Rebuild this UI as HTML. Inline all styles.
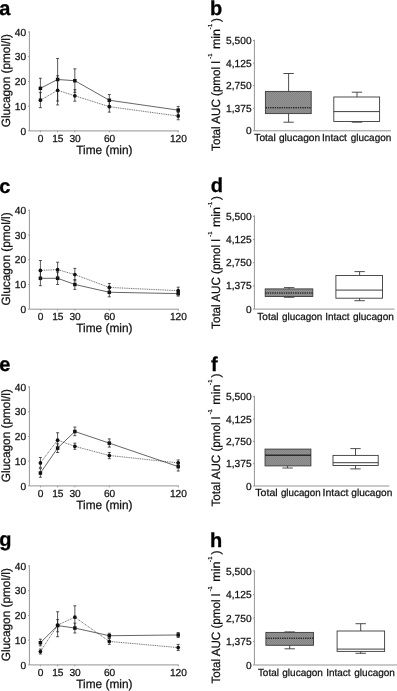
<!DOCTYPE html>
<html><head><meta charset="utf-8"><title>Figure</title>
<style>
html,body{margin:0;padding:0;background:#fff;}
body{width:397px;height:691px;overflow:hidden;font-family:"Liberation Sans",sans-serif;}
svg{display:block;will-change:transform;}
text{font-family:"Liberation Sans",sans-serif;fill:#111;text-rendering:geometricPrecision;}
.let{font-weight:bold;font-size:20px;fill:#000;stroke:#000;stroke-width:0.3;}
.sup{font-size:5.8px;stroke:#111;stroke-width:0.25;}
.tk{font-size:10.2px;stroke:#111;stroke-width:0.25;}
.lab{font-size:12px;stroke:#111;stroke-width:0.25;}
.ax{fill:none;stroke:#959595;stroke-width:1;}
.ln{fill:none;stroke:#222;stroke-width:0.7;}
.eb{fill:none;stroke:#222;stroke-width:0.75;}
.wh{fill:none;stroke:#3a3a3a;stroke-width:0.9;}
.bx{stroke:#3a3a3a;stroke-width:0.9;}
.md{fill:none;stroke:#2a2a2a;stroke-width:0.9;}
</style></head><body>
<svg width="397" height="691" viewBox="0 0 397 691">
<defs>
<pattern id="ht" width="2" height="2" patternUnits="userSpaceOnUse">
<rect width="2" height="2" fill="#929292"/>
<rect width="1" height="1" fill="#848484"/>
<rect x="1" y="1" width="1" height="1" fill="#848484"/>
</pattern>
</defs>
<text x="-0.7" y="14.7" class="let">a</text>
<path d="M29.4 31.30V130.90H178.8" class="ax"/>
<path d="M28.10 130.90H29.4" class="ax"/>
<text x="26.20" y="134.50" class="tk" text-anchor="end">0</text>
<path d="M28.10 106.18H29.4" class="ax"/>
<text x="26.20" y="109.78" class="tk" text-anchor="end">10</text>
<path d="M28.10 81.45H29.4" class="ax"/>
<text x="26.20" y="85.05" class="tk" text-anchor="end">20</text>
<path d="M28.10 56.72H29.4" class="ax"/>
<text x="26.20" y="60.32" class="tk" text-anchor="end">30</text>
<path d="M28.10 32.00H29.4" class="ax"/>
<text x="26.20" y="35.60" class="tk" text-anchor="end">40</text>
<path d="M40.40 130.90v1.4" class="ax"/>
<text x="40.65" y="141.80" class="tk" text-anchor="middle">0</text>
<path d="M57.62 130.90v1.4" class="ax"/>
<text x="57.88" y="141.80" class="tk" text-anchor="middle">15</text>
<path d="M74.85 130.90v1.4" class="ax"/>
<text x="75.10" y="141.80" class="tk" text-anchor="middle">30</text>
<path d="M109.30 130.90v1.4" class="ax"/>
<text x="109.55" y="141.80" class="tk" text-anchor="middle">60</text>
<path d="M178.20 130.90v1.4" class="ax"/>
<text x="178.45" y="141.80" class="tk" text-anchor="middle">120</text>
<text x="76.2" y="153.80" class="lab" textLength="56.3" lengthAdjust="spacingAndGlyphs">Time (min)</text>
<text transform="translate(9.5 127.3) rotate(-90)" class="lab" textLength="93.2" lengthAdjust="spacingAndGlyphs">Glucagon (pmol/l)</text>
<path d="M40.40 88.37L57.62 79.47L74.85 80.71L109.30 100.24L178.20 110.13" class="ln"/>
<path d="M40.40 78.24V98.76M38.90 78.24h3M38.90 98.76h3" class="eb"/>
<path d="M57.62 58.46V100.98M56.12 58.46h3M56.12 100.98h3" class="eb"/>
<path d="M74.85 68.84V92.33M73.35 68.84h3M73.35 92.33h3" class="eb"/>
<path d="M109.30 94.55V106.18M107.80 94.55h3M107.80 106.18h3" class="eb"/>
<path d="M178.20 106.42V114.83M176.70 106.42h3M176.70 114.83h3" class="eb"/>
<rect x="38.65" y="86.62" width="3.5" height="3.5" fill="#111"/>
<rect x="55.88" y="77.72" width="3.5" height="3.5" fill="#111"/>
<rect x="73.10" y="78.96" width="3.5" height="3.5" fill="#111"/>
<rect x="107.55" y="98.49" width="3.5" height="3.5" fill="#111"/>
<rect x="176.45" y="108.38" width="3.5" height="3.5" fill="#111"/>
<path d="M40.40 100.24L57.62 90.35L74.85 95.79L109.30 106.67L178.20 116.06" class="ln" style="stroke-dasharray:1 0.8;stroke-width:0.7;stroke:#2a2a2a"/>
<path d="M40.40 92.58V107.66M38.90 92.58h3M38.90 107.66h3" class="eb"/>
<path d="M57.62 75.76V104.94M56.12 75.76h3M56.12 104.94h3" class="eb"/>
<path d="M74.85 89.61V101.23M73.35 89.61h3M73.35 101.23h3" class="eb"/>
<path d="M109.30 100.74V112.11M107.80 100.74h3M107.80 112.11h3" class="eb"/>
<path d="M178.20 112.36V119.77M176.70 112.36h3M176.70 119.77h3" class="eb"/>
<circle cx="40.40" cy="100.24" r="1.85" fill="#111"/>
<circle cx="57.62" cy="90.35" r="1.85" fill="#111"/>
<circle cx="74.85" cy="95.79" r="1.85" fill="#111"/>
<circle cx="109.30" cy="106.67" r="1.85" fill="#111"/>
<circle cx="178.20" cy="116.06" r="1.85" fill="#111"/>
<text x="-0.7" y="192.8" class="let">c</text>
<path d="M29.4 209.60V309.20H178.8" class="ax"/>
<path d="M28.10 309.20H29.4" class="ax"/>
<text x="26.20" y="312.80" class="tk" text-anchor="end">0</text>
<path d="M28.10 284.48H29.4" class="ax"/>
<text x="26.20" y="288.08" class="tk" text-anchor="end">10</text>
<path d="M28.10 259.75H29.4" class="ax"/>
<text x="26.20" y="263.35" class="tk" text-anchor="end">20</text>
<path d="M28.10 235.03H29.4" class="ax"/>
<text x="26.20" y="238.63" class="tk" text-anchor="end">30</text>
<path d="M28.10 210.30H29.4" class="ax"/>
<text x="26.20" y="213.90" class="tk" text-anchor="end">40</text>
<path d="M40.40 309.20v1.4" class="ax"/>
<text x="40.65" y="320.10" class="tk" text-anchor="middle">0</text>
<path d="M57.62 309.20v1.4" class="ax"/>
<text x="57.88" y="320.10" class="tk" text-anchor="middle">15</text>
<path d="M74.85 309.20v1.4" class="ax"/>
<text x="75.10" y="320.10" class="tk" text-anchor="middle">30</text>
<path d="M109.30 309.20v1.4" class="ax"/>
<text x="109.55" y="320.10" class="tk" text-anchor="middle">60</text>
<path d="M178.20 309.20v1.4" class="ax"/>
<text x="178.45" y="320.10" class="tk" text-anchor="middle">120</text>
<text x="76.2" y="332.10" class="lab" textLength="56.3" lengthAdjust="spacingAndGlyphs">Time (min)</text>
<text transform="translate(9.5 305.6) rotate(-90)" class="lab" textLength="93.2" lengthAdjust="spacingAndGlyphs">Glucagon (pmol/l)</text>
<path d="M40.40 278.29L57.62 278.29L74.85 284.48L109.30 292.26L178.20 293.62" class="ln"/>
<path d="M40.40 270.88V285.71M38.90 270.88h3M38.90 285.71h3" class="eb"/>
<path d="M57.62 272.11V284.48M56.12 272.11h3M56.12 284.48h3" class="eb"/>
<path d="M74.85 279.53V289.42M73.35 279.53h3M73.35 289.42h3" class="eb"/>
<path d="M109.30 288.18V296.84M107.80 288.18h3M107.80 296.84h3" class="eb"/>
<path d="M178.20 291.15V296.10M176.70 291.15h3M176.70 296.10h3" class="eb"/>
<rect x="38.65" y="276.54" width="3.5" height="3.5" fill="#111"/>
<rect x="55.88" y="276.54" width="3.5" height="3.5" fill="#111"/>
<rect x="73.10" y="282.73" width="3.5" height="3.5" fill="#111"/>
<rect x="107.55" y="290.51" width="3.5" height="3.5" fill="#111"/>
<rect x="176.45" y="291.87" width="3.5" height="3.5" fill="#111"/>
<path d="M40.40 270.38L57.62 269.64L74.85 274.59L109.30 287.44L178.20 290.66" class="ln" style="stroke-dasharray:1 0.8;stroke-width:0.7;stroke:#2a2a2a"/>
<path d="M40.40 260.49V279.53M38.90 260.49h3M38.90 279.53h3" class="eb"/>
<path d="M57.62 262.22V277.06M56.12 262.22h3M56.12 277.06h3" class="eb"/>
<path d="M74.85 268.40V280.77M73.35 268.40h3M73.35 280.77h3" class="eb"/>
<path d="M109.30 283.49V291.89M107.80 283.49h3M107.80 291.89h3" class="eb"/>
<path d="M178.20 287.19V294.37M176.70 287.19h3M176.70 294.37h3" class="eb"/>
<circle cx="40.40" cy="270.38" r="1.85" fill="#111"/>
<circle cx="57.62" cy="269.64" r="1.85" fill="#111"/>
<circle cx="74.85" cy="274.59" r="1.85" fill="#111"/>
<circle cx="109.30" cy="287.44" r="1.85" fill="#111"/>
<circle cx="178.20" cy="290.66" r="1.85" fill="#111"/>
<text x="-0.7" y="370.5" class="let">e</text>
<path d="M29.4 386.30V485.90H178.8" class="ax"/>
<path d="M28.10 485.90H29.4" class="ax"/>
<text x="26.20" y="489.50" class="tk" text-anchor="end">0</text>
<path d="M28.10 461.17H29.4" class="ax"/>
<text x="26.20" y="464.77" class="tk" text-anchor="end">10</text>
<path d="M28.10 436.45H29.4" class="ax"/>
<text x="26.20" y="440.05" class="tk" text-anchor="end">20</text>
<path d="M28.10 411.72H29.4" class="ax"/>
<text x="26.20" y="415.32" class="tk" text-anchor="end">30</text>
<path d="M28.10 387.00H29.4" class="ax"/>
<text x="26.20" y="390.60" class="tk" text-anchor="end">40</text>
<path d="M40.40 485.90v1.4" class="ax"/>
<text x="40.65" y="496.80" class="tk" text-anchor="middle">0</text>
<path d="M57.62 485.90v1.4" class="ax"/>
<text x="57.88" y="496.80" class="tk" text-anchor="middle">15</text>
<path d="M74.85 485.90v1.4" class="ax"/>
<text x="75.10" y="496.80" class="tk" text-anchor="middle">30</text>
<path d="M109.30 485.90v1.4" class="ax"/>
<text x="109.55" y="496.80" class="tk" text-anchor="middle">60</text>
<path d="M178.20 485.90v1.4" class="ax"/>
<text x="178.45" y="496.80" class="tk" text-anchor="middle">120</text>
<text x="76.2" y="508.80" class="lab" textLength="56.3" lengthAdjust="spacingAndGlyphs">Time (min)</text>
<text transform="translate(9.5 482.3) rotate(-90)" class="lab" textLength="93.2" lengthAdjust="spacingAndGlyphs">Glucagon (pmol/l)</text>
<path d="M40.40 473.04L57.62 448.07L74.85 431.50L109.30 443.13L178.20 466.61" class="ln"/>
<path d="M40.40 468.59V477.25M38.90 468.59h3M38.90 477.25h3" class="eb"/>
<path d="M57.62 443.87V452.52M56.12 443.87h3M56.12 452.52h3" class="eb"/>
<path d="M74.85 427.05V435.71M73.35 427.05h3M73.35 435.71h3" class="eb"/>
<path d="M109.30 438.92V447.08M107.80 438.92h3M107.80 447.08h3" class="eb"/>
<path d="M178.20 462.41V471.06M176.70 462.41h3M176.70 471.06h3" class="eb"/>
<rect x="38.65" y="471.29" width="3.5" height="3.5" fill="#111"/>
<rect x="55.88" y="446.32" width="3.5" height="3.5" fill="#111"/>
<rect x="73.10" y="429.75" width="3.5" height="3.5" fill="#111"/>
<rect x="107.55" y="441.38" width="3.5" height="3.5" fill="#111"/>
<rect x="176.45" y="464.86" width="3.5" height="3.5" fill="#111"/>
<path d="M40.40 462.91L57.62 440.16L74.85 446.34L109.30 455.49L178.20 462.91" class="ln" style="stroke-dasharray:1 0.8;stroke-width:0.7;stroke:#2a2a2a"/>
<path d="M40.40 457.47V467.36M38.90 457.47h3M38.90 467.36h3" class="eb"/>
<path d="M57.62 432.74V447.58M56.12 432.74h3M56.12 447.58h3" class="eb"/>
<path d="M74.85 443.13V449.31M73.35 443.13h3M73.35 449.31h3" class="eb"/>
<path d="M109.30 452.52V458.70M107.80 452.52h3M107.80 458.70h3" class="eb"/>
<path d="M178.20 459.94V466.12M176.70 459.94h3M176.70 466.12h3" class="eb"/>
<circle cx="40.40" cy="462.91" r="1.85" fill="#111"/>
<circle cx="57.62" cy="440.16" r="1.85" fill="#111"/>
<circle cx="74.85" cy="446.34" r="1.85" fill="#111"/>
<circle cx="109.30" cy="455.49" r="1.85" fill="#111"/>
<circle cx="178.20" cy="462.91" r="1.85" fill="#111"/>
<text x="-0.7" y="546.3" class="let">g</text>
<path d="M29.4 565.30V664.90H178.8" class="ax"/>
<path d="M28.10 664.90H29.4" class="ax"/>
<text x="26.20" y="668.50" class="tk" text-anchor="end">0</text>
<path d="M28.10 640.17H29.4" class="ax"/>
<text x="26.20" y="643.77" class="tk" text-anchor="end">10</text>
<path d="M28.10 615.45H29.4" class="ax"/>
<text x="26.20" y="619.05" class="tk" text-anchor="end">20</text>
<path d="M28.10 590.72H29.4" class="ax"/>
<text x="26.20" y="594.32" class="tk" text-anchor="end">30</text>
<path d="M28.10 566.00H29.4" class="ax"/>
<text x="26.20" y="569.60" class="tk" text-anchor="end">40</text>
<path d="M40.40 664.90v1.4" class="ax"/>
<text x="40.65" y="675.80" class="tk" text-anchor="middle">0</text>
<path d="M57.62 664.90v1.4" class="ax"/>
<text x="57.88" y="675.80" class="tk" text-anchor="middle">15</text>
<path d="M74.85 664.90v1.4" class="ax"/>
<text x="75.10" y="675.80" class="tk" text-anchor="middle">30</text>
<path d="M109.30 664.90v1.4" class="ax"/>
<text x="109.55" y="675.80" class="tk" text-anchor="middle">60</text>
<path d="M178.20 664.90v1.4" class="ax"/>
<text x="178.45" y="675.80" class="tk" text-anchor="middle">120</text>
<text x="76.2" y="687.80" class="lab" textLength="56.3" lengthAdjust="spacingAndGlyphs">Time (min)</text>
<text transform="translate(9.5 661.3) rotate(-90)" class="lab" textLength="93.2" lengthAdjust="spacingAndGlyphs">Glucagon (pmol/l)</text>
<path d="M40.40 642.77L57.62 625.59L74.85 628.06L109.30 635.72L178.20 634.98" class="ln"/>
<path d="M40.40 639.19V645.86M38.90 639.19h3M38.90 645.86h3" class="eb"/>
<path d="M57.62 619.65V631.77M56.12 619.65h3M56.12 631.77h3" class="eb"/>
<path d="M74.85 623.11V633.00M73.35 623.11h3M73.35 633.00h3" class="eb"/>
<path d="M109.30 633.25V638.20M107.80 633.25h3M107.80 638.20h3" class="eb"/>
<path d="M178.20 632.51V637.46M176.70 632.51h3M176.70 637.46h3" class="eb"/>
<rect x="38.65" y="641.02" width="3.5" height="3.5" fill="#111"/>
<rect x="55.88" y="623.84" width="3.5" height="3.5" fill="#111"/>
<rect x="73.10" y="626.31" width="3.5" height="3.5" fill="#111"/>
<rect x="107.55" y="633.97" width="3.5" height="3.5" fill="#111"/>
<rect x="176.45" y="633.23" width="3.5" height="3.5" fill="#111"/>
<path d="M40.40 651.55L57.62 625.09L74.85 617.18L109.30 641.41L178.20 647.59" class="ln" style="stroke-dasharray:1 0.8;stroke-width:0.7;stroke:#2a2a2a"/>
<path d="M40.40 649.08V654.02M38.90 649.08h3M38.90 654.02h3" class="eb"/>
<path d="M57.62 611.74V636.71M56.12 611.74h3M56.12 636.71h3" class="eb"/>
<path d="M74.85 605.81V628.31M73.35 605.81h3M73.35 628.31h3" class="eb"/>
<path d="M109.30 638.20V644.38M107.80 638.20h3M107.80 644.38h3" class="eb"/>
<path d="M178.20 644.38V650.56M176.70 644.38h3M176.70 650.56h3" class="eb"/>
<circle cx="40.40" cy="651.55" r="1.85" fill="#111"/>
<circle cx="57.62" cy="625.09" r="1.85" fill="#111"/>
<circle cx="74.85" cy="617.18" r="1.85" fill="#111"/>
<circle cx="109.30" cy="641.41" r="1.85" fill="#111"/>
<circle cx="178.20" cy="647.59" r="1.85" fill="#111"/>
<text x="210.0" y="14.7" class="let">b</text>
<path d="M254.4 39.70V130.80H391.0" class="ax"/>
<path d="M253.00 130.80H254.4" class="ax"/>
<text x="251.60" y="134.30" class="tk" text-anchor="end">0</text>
<path d="M253.00 108.25H254.4" class="ax"/>
<text x="251.60" y="111.75" class="tk" text-anchor="end">1,375</text>
<path d="M253.00 85.70H254.4" class="ax"/>
<text x="251.60" y="89.20" class="tk" text-anchor="end">2,750</text>
<path d="M253.00 63.15H254.4" class="ax"/>
<text x="251.60" y="66.65" class="tk" text-anchor="end">4,125</text>
<path d="M253.00 40.60H254.4" class="ax"/>
<text x="251.60" y="44.10" class="tk" text-anchor="end">5,500</text>
<text x="254.30" y="141.10" class="tk" textLength="21.50" lengthAdjust="spacingAndGlyphs">Total</text>
<text x="278.90" y="141.10" class="tk" textLength="41.30" lengthAdjust="spacingAndGlyphs">glucagon</text>
<text x="321.95" y="141.10" class="tk" textLength="24.85" lengthAdjust="spacingAndGlyphs">Intact</text>
<text x="350.80" y="141.10" class="tk" textLength="40.50" lengthAdjust="spacingAndGlyphs">glucagon</text>
<g transform="translate(220.0 150.9) rotate(-90)"><text x="0" y="0" class="lab" textLength="89.8" lengthAdjust="spacingAndGlyphs">Total AUC (pmol l</text><text x="92.2" y="-8.2" class="sup">-1</text><text x="101.8" y="0" class="lab" textLength="20.2" lengthAdjust="spacingAndGlyphs">min</text><text x="121.6" y="-8.2" class="sup" style="letter-spacing:0.3px">-1</text><text x="128.9" y="0" class="lab">)</text></g>
<path d="M288.60 73.50V122.20M283.40 73.50h10.4M283.40 122.20h10.4" class="wh"/>
<rect x="265.40" y="91.40" width="45.80" height="22.20" fill="url(#ht)" class="bx"/>
<path d="M265.90 107.70H310.70" style="stroke:#a8a8a8;stroke-width:1.5;fill:none"/>
<path d="M265.40 107.70H311.20" class="md" style="stroke-width:1.5;stroke-dasharray:1.6 0.7"/>
<path d="M357.00 92.20V122.20M351.80 92.20h10.4M351.80 122.20h10.4" class="wh"/>
<rect x="333.80" y="97.00" width="45.80" height="24.50" fill="#fff" class="bx"/>
<path d="M333.80 111.60H379.60" class="md"/>
<text x="210.8" y="191.9" class="let">d</text>
<path d="M254.4 215.40V309.10H394.5" class="ax"/>
<path d="M253.00 309.10H254.4" class="ax"/>
<text x="251.60" y="312.60" class="tk" text-anchor="end">0</text>
<path d="M253.00 285.90H254.4" class="ax"/>
<text x="251.60" y="289.40" class="tk" text-anchor="end">1,375</text>
<path d="M253.00 262.70H254.4" class="ax"/>
<text x="251.60" y="266.20" class="tk" text-anchor="end">2,750</text>
<path d="M253.00 239.50H254.4" class="ax"/>
<text x="251.60" y="243.00" class="tk" text-anchor="end">4,125</text>
<path d="M253.00 216.30H254.4" class="ax"/>
<text x="251.60" y="219.80" class="tk" text-anchor="end">5,500</text>
<text x="257.30" y="319.70" class="tk" textLength="21.20" lengthAdjust="spacingAndGlyphs">Total</text>
<text x="281.90" y="319.70" class="tk" textLength="40.40" lengthAdjust="spacingAndGlyphs">glucagon</text>
<text x="325.15" y="319.70" class="tk" textLength="24.25" lengthAdjust="spacingAndGlyphs">Intact</text>
<text x="352.90" y="319.70" class="tk" textLength="41.00" lengthAdjust="spacingAndGlyphs">glucagon</text>
<g transform="translate(220.0 328.9) rotate(-90)"><text x="0" y="0" class="lab" textLength="89.8" lengthAdjust="spacingAndGlyphs">Total AUC (pmol l</text><text x="92.2" y="-8.2" class="sup">-1</text><text x="101.8" y="0" class="lab" textLength="20.2" lengthAdjust="spacingAndGlyphs">min</text><text x="121.6" y="-8.2" class="sup" style="letter-spacing:0.3px">-1</text><text x="128.9" y="0" class="lab">)</text></g>
<path d="M289.10 287.60V297.30M283.90 287.60h10.4M283.90 297.30h10.4" class="wh"/>
<rect x="265.20" y="288.90" width="47.60" height="7.60" fill="url(#ht)" class="bx"/>
<path d="M265.70 292.90H312.30" style="stroke:#a8a8a8;stroke-width:1.5;fill:none"/>
<path d="M265.20 292.90H312.80" class="md" style="stroke-width:1.5;stroke-dasharray:1.6 0.7"/>
<path d="M359.60 271.60V300.70M354.40 271.60h10.4M354.40 300.70h10.4" class="wh"/>
<rect x="335.90" y="275.50" width="46.60" height="22.70" fill="#fff" class="bx"/>
<path d="M335.90 290.10H382.50" class="md"/>
<text x="210.9" y="370.5" class="let">f</text>
<path d="M254.4 395.80V486.00H389.3" class="ax"/>
<path d="M253.00 486.00H254.4" class="ax"/>
<text x="251.60" y="489.50" class="tk" text-anchor="end">0</text>
<path d="M253.00 463.68H254.4" class="ax"/>
<text x="251.60" y="467.18" class="tk" text-anchor="end">1,375</text>
<path d="M253.00 441.35H254.4" class="ax"/>
<text x="251.60" y="444.85" class="tk" text-anchor="end">2,750</text>
<path d="M253.00 419.02H254.4" class="ax"/>
<text x="251.60" y="422.52" class="tk" text-anchor="end">4,125</text>
<path d="M253.00 396.70H254.4" class="ax"/>
<text x="251.60" y="400.20" class="tk" text-anchor="end">5,500</text>
<text x="255.30" y="496.20" class="tk" textLength="22.40" lengthAdjust="spacingAndGlyphs">Total</text>
<text x="280.90" y="496.20" class="tk" textLength="39.80" lengthAdjust="spacingAndGlyphs">glucagon</text>
<text x="322.45" y="496.20" class="tk" textLength="25.95" lengthAdjust="spacingAndGlyphs">Intact</text>
<text x="351.30" y="496.20" class="tk" textLength="41.00" lengthAdjust="spacingAndGlyphs">glucagon</text>
<g transform="translate(220.0 506.5) rotate(-90)"><text x="0" y="0" class="lab" textLength="89.8" lengthAdjust="spacingAndGlyphs">Total AUC (pmol l</text><text x="92.2" y="-8.2" class="sup">-1</text><text x="101.8" y="0" class="lab" textLength="20.2" lengthAdjust="spacingAndGlyphs">min</text><text x="121.6" y="-8.2" class="sup" style="letter-spacing:0.3px">-1</text><text x="128.9" y="0" class="lab">)</text></g>
<path d="M287.60 449.10V468.00M282.40 468.00h10.4" class="wh"/>
<rect x="265.05" y="449.10" width="45.85" height="16.80" fill="url(#ht)" class="bx"/>
<path d="M265.05 455.30H310.90" class="md" style="stroke-width:1.4"/>
<path d="M355.50 448.60V468.90M350.30 448.60h10.4M350.30 468.90h10.4" class="wh"/>
<rect x="333.00" y="455.40" width="45.20" height="10.10" fill="#fff" class="bx"/>
<path d="M333.00 462.70H378.20" class="md"/>
<text x="210.1" y="546.8" class="let">h</text>
<path d="M254.4 570.10V665.00H397.5" class="ax"/>
<path d="M253.00 665.00H254.4" class="ax"/>
<text x="251.60" y="668.50" class="tk" text-anchor="end">0</text>
<path d="M253.00 641.50H254.4" class="ax"/>
<text x="251.60" y="645.00" class="tk" text-anchor="end">1,375</text>
<path d="M253.00 618.00H254.4" class="ax"/>
<text x="251.60" y="621.50" class="tk" text-anchor="end">2,750</text>
<path d="M253.00 594.50H254.4" class="ax"/>
<text x="251.60" y="598.00" class="tk" text-anchor="end">4,125</text>
<path d="M253.00 571.00H254.4" class="ax"/>
<text x="251.60" y="574.50" class="tk" text-anchor="end">5,500</text>
<text x="257.90" y="675.50" class="tk" textLength="21.00" lengthAdjust="spacingAndGlyphs">Total</text>
<text x="282.30" y="675.50" class="tk" textLength="40.60" lengthAdjust="spacingAndGlyphs">glucagon</text>
<text x="326.15" y="675.50" class="tk" textLength="24.35" lengthAdjust="spacingAndGlyphs">Intact</text>
<text x="354.30" y="675.50" class="tk" textLength="40.60" lengthAdjust="spacingAndGlyphs">glucagon</text>
<g transform="translate(220.0 683.5) rotate(-90)"><text x="0" y="0" class="lab" textLength="89.8" lengthAdjust="spacingAndGlyphs">Total AUC (pmol l</text><text x="92.2" y="-8.2" class="sup">-1</text><text x="101.8" y="0" class="lab" textLength="20.2" lengthAdjust="spacingAndGlyphs">min</text><text x="121.6" y="-8.2" class="sup" style="letter-spacing:0.3px">-1</text><text x="128.9" y="0" class="lab">)</text></g>
<path d="M289.70 631.90V648.80M284.50 631.90h10.4M284.50 648.80h10.4" class="wh"/>
<rect x="265.90" y="632.40" width="47.60" height="12.90" fill="url(#ht)" class="bx"/>
<path d="M266.40 638.20H313.00" style="stroke:#a8a8a8;stroke-width:1.5;fill:none"/>
<path d="M265.90 638.20H313.50" class="md" style="stroke-width:1.5;stroke-dasharray:1.6 0.7"/>
<path d="M360.70 623.70V653.30M355.50 623.70h10.4M355.50 653.30h10.4" class="wh"/>
<rect x="337.10" y="631.00" width="47.50" height="20.40" fill="#fff" class="bx"/>
<path d="M337.10 649.10H384.60" class="md"/>
</svg>
</body></html>
